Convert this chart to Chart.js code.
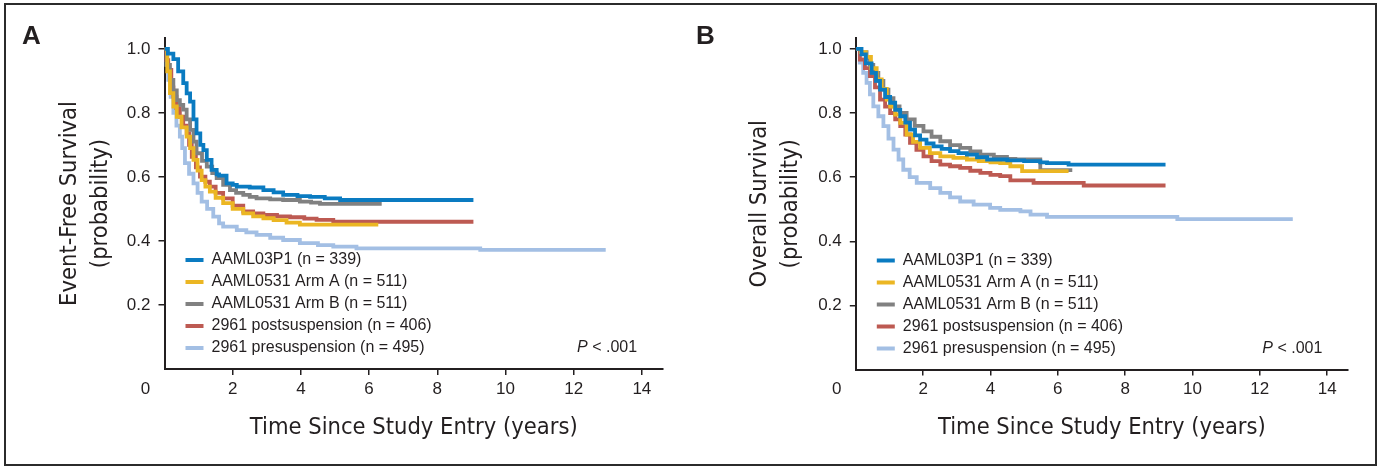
<!DOCTYPE html>
<html><head><meta charset="utf-8">
<script src="https://cdn.jsdelivr.net/npm/chart.js@4.4.1/dist/chart.umd.min.js"></script>
<style>
html,body{margin:0;padding:0;background:#fff;}
#wrap{position:relative;width:1380px;height:468px;overflow:hidden;background:#fff;}
#frame{position:absolute;left:4px;top:3px;width:1369px;height:459px;border:2px solid #2b2b2b;}
.letter{position:absolute;font-family:'Liberation Sans',Arial,sans-serif;font-weight:bold;font-size:26px;line-height:26px;color:#231f20;}
canvas{position:absolute;top:0;}
</style></head><body>
<div id="wrap">
<div id="frame"></div>
<canvas id="cA" width="690" height="468" style="left:0;width:690px;height:468px"></canvas>
<canvas id="cB" width="690" height="468" style="left:690px;width:690px;height:468px"></canvas>
<div class="letter" style="left:22px;top:22px">A</div>
<div class="letter" style="left:696px;top:22px">B</div>
</div>
<script>
// ---- labels / ticks ----
const seriesLabels = ['AAML03P1 (n = 339)', 'AAML0531 Arm A (n = 511)', 'AAML0531 Arm B (n = 511)', '2961 postsuspension (n = 406)', '2961 presuspension (n = 495)'];
const seriesColors = ['#0a7bc1', '#ebb623', '#818181', '#bd5a52', '#a3bfe4'];
const xTicks = [2, 4, 6, 8, 10, 12, 14];
const yTicks = [0.2, 0.4, 0.6, 0.8, 1.0];
const originLabel = '0';
const xTitle = 'Time Since Study Entry (years)';
const yTitleA = ['Event-Free Survival', '(probability)'];
const yTitleB = ['Overall Survival', '(probability)'];
const pValueText = ['P', ' < .001'];

// ---- Panel A: event-free survival (time in years, survival probability) ----
const efsTime03P1 = [0, 0.1, 0.26, 0.4, 0.55, 0.65, 0.75, 0.85, 0.94, 1.05, 1.14, 1.24, 1.38, 1.53, 1.6, 1.82, 2.0, 2.12, 2.5, 2.9, 3.2, 3.48, 3.9, 4.27, 4.7, 5.15, 9.06];
const efsSurv03P1 = [1, 0.985, 0.968, 0.93, 0.893, 0.861, 0.835, 0.78, 0.736, 0.70, 0.684, 0.653, 0.622, 0.608, 0.604, 0.58, 0.575, 0.57, 0.567, 0.559, 0.552, 0.544, 0.54, 0.538, 0.533, 0.528, 0.528];
const efsTimeArmA = [0, 0.08, 0.16, 0.26, 0.36, 0.5, 0.65, 0.75, 0.85, 0.97, 1.09, 1.2, 1.33, 1.5, 1.72, 2.0, 2.31, 2.6, 2.9, 3.2, 3.58, 3.97, 6.27];
const efsSurvArmA = [1, 0.93, 0.862, 0.82, 0.788, 0.755, 0.726, 0.69, 0.653, 0.62, 0.59, 0.57, 0.554, 0.535, 0.518, 0.50, 0.486, 0.477, 0.471, 0.465, 0.457, 0.451, 0.451];
const efsTimeArmB = [0, 0.08, 0.16, 0.26, 0.36, 0.45, 0.55, 0.65, 0.75, 0.85, 0.94, 1.1, 1.24, 1.4, 1.53, 1.72, 1.92, 2.1, 2.31, 2.5, 2.7, 3.1, 3.48, 3.97, 4.3, 4.56, 6.37];
const efsSurvArmB = [1, 0.95, 0.903, 0.87, 0.84, 0.825, 0.81, 0.78, 0.747, 0.71, 0.674, 0.65, 0.632, 0.612, 0.596, 0.575, 0.559, 0.55, 0.544, 0.538, 0.533, 0.53, 0.528, 0.523, 0.52, 0.516, 0.516];
const efsTimePost = [0, 0.05, 0.11, 0.2, 0.26, 0.35, 0.45, 0.55, 0.65, 0.72, 0.8, 0.92, 1.04, 1.2, 1.33, 1.5, 1.72, 2.0, 2.31, 2.6, 2.9, 3.3, 3.68, 4.1, 4.46, 4.95, 9.06];
const efsSurvPost = [1, 0.965, 0.934, 0.88, 0.851, 0.815, 0.788, 0.76, 0.736, 0.70, 0.663, 0.63, 0.601, 0.585, 0.57, 0.55, 0.533, 0.51, 0.492, 0.486, 0.481, 0.477, 0.474, 0.47, 0.466, 0.46, 0.46];
const efsTimePre = [0, 0.05, 0.11, 0.18, 0.26, 0.35, 0.45, 0.52, 0.6, 0.72, 0.85, 0.97, 1.09, 1.25, 1.43, 1.6, 1.72, 2.12, 2.4, 2.7, 3.1, 3.48, 3.97, 4.5, 4.95, 5.63, 9.26, 12.94];
const efsSurvPre = [1, 0.95, 0.903, 0.85, 0.8, 0.76, 0.726, 0.69, 0.643, 0.61, 0.58, 0.55, 0.523, 0.5, 0.476, 0.455, 0.445, 0.434, 0.427, 0.419, 0.41, 0.403, 0.393, 0.387, 0.382, 0.377, 0.372, 0.372];

// ---- Panel B: overall survival ----
const osTime03P1 = [0, 0.17, 0.3, 0.47, 0.6, 0.72, 0.87, 1.02, 1.17, 1.32, 1.47, 1.61, 1.76, 1.91, 2.1, 2.31, 2.55, 2.8, 3.05, 3.3, 3.6, 3.9, 4.5, 5.0, 5.48, 5.68, 6.32, 9.2];
const osSurv03P1 = [1, 0.983, 0.955, 0.925, 0.9, 0.873, 0.85, 0.832, 0.81, 0.79, 0.77, 0.748, 0.73, 0.717, 0.705, 0.696, 0.688, 0.681, 0.675, 0.67, 0.662, 0.655, 0.652, 0.65, 0.646, 0.644, 0.639, 0.639];
const osTimeArmA = [0, 0.15, 0.3, 0.45, 0.62, 0.77, 0.92, 1.02, 1.17, 1.32, 1.51, 1.7, 1.91, 2.2, 2.51, 2.9, 3.3, 3.65, 4.0, 4.29, 4.59, 4.94, 6.32];
const osSurvArmA = [1, 0.99, 0.975, 0.94, 0.905, 0.875, 0.842, 0.82, 0.795, 0.769, 0.733, 0.71, 0.691, 0.675, 0.665, 0.66, 0.655, 0.65, 0.646, 0.644, 0.634, 0.619, 0.619];
const osTimeArmB = [0, 0.15, 0.32, 0.42, 0.52, 0.67, 0.82, 0.97, 1.12, 1.3, 1.51, 1.75, 2.01, 2.25, 2.51, 2.8, 3.1, 3.4, 3.7, 4.1, 4.49, 4.74, 5.48, 6.43];
const osSurvArmB = [1, 0.99, 0.972, 0.95, 0.925, 0.9, 0.873, 0.846, 0.821, 0.8, 0.78, 0.76, 0.743, 0.726, 0.712, 0.70, 0.691, 0.68, 0.67, 0.663, 0.657, 0.655, 0.622, 0.622];
const osTimePost = [0, 0.12, 0.27, 0.42, 0.57, 0.72, 0.87, 1.02, 1.17, 1.32, 1.47, 1.61, 1.8, 2.01, 2.25, 2.51, 2.8, 3.1, 3.4, 3.7, 4.0, 4.29, 4.59, 5.28, 6.77, 9.2];
const osSurvPost = [1, 0.967, 0.94, 0.915, 0.88, 0.842, 0.82, 0.8, 0.78, 0.759, 0.733, 0.707, 0.685, 0.665, 0.65, 0.639, 0.634, 0.629, 0.62, 0.613, 0.607, 0.603, 0.59, 0.582, 0.574, 0.574];
const osTimePre = [0, 0.12, 0.22, 0.32, 0.42, 0.52, 0.67, 0.82, 0.97, 1.12, 1.27, 1.41, 1.6, 1.81, 2.21, 2.51, 2.8, 3.1, 3.5, 3.99, 4.29, 4.89, 5.19, 5.68, 9.55, 12.98];
const osSurvPre = [1, 0.957, 0.925, 0.894, 0.858, 0.821, 0.79, 0.759, 0.72, 0.686, 0.655, 0.623, 0.6, 0.582, 0.566, 0.551, 0.537, 0.524, 0.514, 0.504, 0.498, 0.493, 0.483, 0.476, 0.469, 0.469];

const textColor = '#231f20';
const axisColor = '#231f20';
const sansFamily = "'Liberation Sans', Arial, Helvetica, sans-serif";
const narrowFamily = "'Liberation Sans Narrow', 'Arial Narrow', 'DejaVu Sans Condensed', sans-serif";

function toPoints(ts, ss) { return ts.map((t, i) => ({x: t, y: ss[i]})); }

const annotPlugin = {
  id: 'annot',
  afterLayout(chart) {
    const lg = chart.legend, ca = chart.chartArea;
    if (lg) {
      const w = lg.right - lg.left;
      lg.left = ca.left + 15; lg.right = lg.left + w;
      lg.top = ca.top - 7; lg.bottom = ca.bottom - 7; lg.height = lg.bottom - lg.top;
    }
  },
  afterDraw(chart) {
    const ctx = chart.ctx, xs = chart.scales.x, ys = chart.scales.y;
    ctx.save();
    ctx.fillStyle = textColor;
    ctx.font = "17px " + sansFamily;
    ctx.textAlign = 'center'; ctx.textBaseline = 'middle';
    ctx.fillText(originLabel, xs.getPixelForValue(0) - 19, xs.top + 20);
    // P value, right aligned near the right end of plot
    const xr = xs.getPixelForValue(13.86);
    const yr = ys.getPixelForValue(0.066);
    ctx.font = "16px " + sansFamily;
    const wRest = ctx.measureText(pValueText[1]).width;
    ctx.textAlign = 'left';
    ctx.fillText(pValueText[1], xr - wRest, yr);
    ctx.font = "italic 16px " + sansFamily;
    const wP = ctx.measureText(pValueText[0]).width;
    ctx.fillText(pValueText[0], xr - wRest - wP, yr);
    ctx.restore();
  }
};

function makeChart(id, times, survs, yTitle, g) {
  const datasets = times.map((ts, i) => ({
    label: seriesLabels[i],
    data: toPoints(ts, survs[i]),
    borderColor: seriesColors[i],
    backgroundColor: seriesColors[i],
    borderWidth: 3.8,
    pointRadius: 0,
    stepped: true,
    fill: false,
    tension: 0
  }));
  return new Chart(document.getElementById(id), {
    type: 'line',
    data: {datasets},
    options: {
      responsive: false,
      animation: false,
      devicePixelRatio: 1,
      layout: {padding: {top: 38, right: g.right, bottom: 0, left: 0}},
      plugins: {
        tooltip: {enabled: false},
        legend: {
          position: 'chartArea',
          align: 'end',
          labels: {
            boxWidth: 18, boxHeight: 4, padding: 6,
            color: textColor,
            font: {family: sansFamily, size: 16},
            generateLabels: (chart) => chart.data.datasets.map((ds, i) => ({
              text: ds.label, fillStyle: ds.borderColor, strokeStyle: ds.borderColor,
              lineWidth: 0, hidden: false, datasetIndex: i, fontColor: textColor
            }))
          }
        }
      },
      scales: {
        x: {
          type: 'linear', min: 0, max: 14.62,
          afterFit: (s) => { s.height = g.xh; },
          afterBuildTicks: (s) => { s.ticks = xTicks.map(v => ({value: v})); },
          grid: {display: true, drawOnChartArea: false, drawTicks: true, tickLength: 6, color: axisColor, lineWidth: 1.5},
          border: {display: true, color: axisColor, width: 2},
          ticks: {autoSkip: false, maxRotation: 0, padding: 4, color: textColor, font: {family: sansFamily, size: 17}, callback: (v) => String(v)},
          title: {display: true, text: xTitle, color: textColor, font: {family: narrowFamily, size: 23.5, lineHeight: 30 / 23.5}, padding: {top: 0, bottom: 25}}
        },
        y: {
          type: 'linear', min: 0, max: 1.034,
          afterFit: (s) => { s.width = g.yw; },
          afterBuildTicks: (s) => { s.ticks = yTicks.map(v => ({value: v})); },
          grid: {display: true, drawOnChartArea: false, drawTicks: true, tickLength: 6, color: axisColor, lineWidth: 1.5},
          border: {display: true, color: axisColor, width: 2},
          ticks: {autoSkip: false, padding: 8, color: textColor, font: {family: sansFamily, size: 17}, callback: (v) => Number(v).toFixed(1)},
          title: {display: true, text: yTitle, color: textColor, font: {family: narrowFamily, size: 23.5, lineHeight: 31 / 23.5}, padding: {top: 54, bottom: 0}}
        }
      }
    },
    plugins: [annotPlugin]
  });
}

makeChart('cA',
  [efsTime03P1, efsTimeArmA, efsTimeArmB, efsTimePost, efsTimePre],
  [efsSurv03P1, efsSurvArmA, efsSurvArmB, efsSurvPost, efsSurvPre],
  yTitleA, {right: 27, xh: 99, yw: 164.5});
makeChart('cB',
  [osTime03P1, osTimeArmA, osTimeArmB, osTimePost, osTimePre],
  [osSurv03P1, osSurvArmA, osSurvArmB, osSurvPost, osSurvPre],
  yTitleB, {right: 32, xh: 98.5, yw: 165.8});
</script>
</body></html>
